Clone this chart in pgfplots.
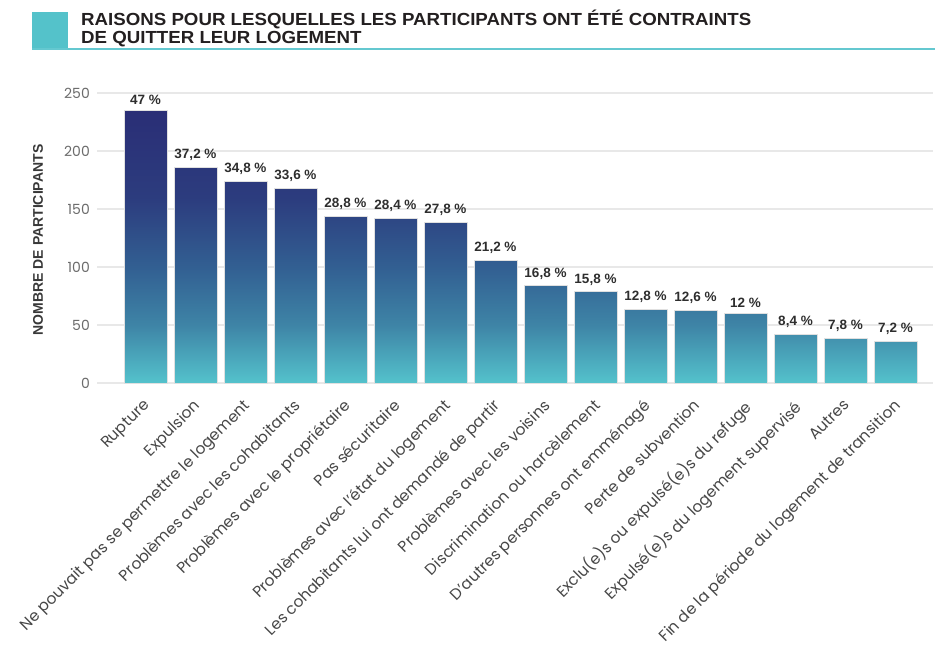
\documentclass[border=0pt]{standalone}
\usepackage{pgfplots}
\pgfplotsset{compat=1.18}
\usepackage{pgfplotstable}
\usepackage{fontspec}
\setmainfont{Poppins}
\newfontfamily\headfont{Liberation Sans}
\definecolor{tealbox}{RGB}{84,194,202}
\definecolor{tealline}{RGB}{100,200,208}
\definecolor{titletext}{RGB}{35,31,32}

\pgfplotstableread[col sep=semicolon]{
x;n;lab
0;235;47 \%
1;186;37,2 \%
2;174;34,8 \%
3;168;33,6 \%
4;144;28,8 \%
5;142;28,4 \%
6;139;27,8 \%
7;106;21,2 \%
8;84;16,8 \%
9;79;15,8 \%
10;64;12,8 \%
11;63;12,6 \%
12;60;12 \%
13;42;8,4 \%
14;39;7,8 \%
15;36;7,2 \%
}\bardata

\begin{document}
\begin{tikzpicture}[x=1pt,y=1pt]
\useasboundingbox (0,0) rectangle (935,-651);
% title
\fill[tealbox] (32,-12) rectangle (68,-49);
\draw[tealline, line width=2pt] (32,-48.5) -- (935,-48.5);
\node[anchor=base west, inner sep=0pt, font=\headfont\bfseries\fontsize{17.5}{17.5}\selectfont, text=titletext] at (81,-25.5) {\scalebox{1.068}[1]{RAISONS POUR LESQUELLES LES PARTICIPANTS ONT ÉTÉ CONTRAINTS}};
\node[anchor=base west, inner sep=0pt, font=\headfont\bfseries\fontsize{17.5}{17.5}\selectfont, text=titletext] at (81,-43.5) {\scalebox{1.068}[1]{DE QUITTER LEUR LOGEMENT}};
\node[rotate=90, inner sep=0pt, font=\headfont\bfseries\fontsize{14}{14}\selectfont, text=black!78] at (38,-240) {NOMBRE DE PARTICIPANTS};
\coordinate (O) at (97pt,-383pt);
\begin{axis}[
  at={(O)}, anchor=south west, scale only axis,
  width=836pt, height=290pt,
  xmin=-0.97, xmax=15.75, ymin=0, ymax=250,
  axis line style={draw=none}, tick style={draw=none},
  ytick={0,50,...,250},
  xtick={0,...,15},
  xticklabels={Rupture, Expulsion, Ne pouvait pas se permettre le logement, Problèmes avec les cohabitants, Problèmes avec le propriétaire, Pas sécuritaire, Problèmes avec l'état du logement, Les cohabitants lui ont demandé de partir, Problèmes avec les voisins, Discrimination ou harcèlement, D'autres personnes ont emménagé, Perte de subvention, Exclu(e)s ou expulsé(e)s du refuge, Expulsé(e)s du logement supervisé, Autres, Fin de la période du logement de transition},
  ymajorgrids, grid style={draw=black!9, line width=1.1pt},
  /pgf/number format/assume math mode=true,
  yticklabel style={font=\fontsize{14}{14}\selectfont, text=black!58, anchor=east, inner sep=0pt, xshift=-7pt},
  xticklabel style={yshift=-15pt, xshift=-3pt, rotate=45, anchor=north east, inner sep=0pt, font=\fontsize{15.5}{15.5}\selectfont, text=black!72},
  colormap={bars}{rgb255(0)=(84,194,204) rgb255(50)=(62,132,166) rgb255(100)=(50,95,146) rgb255(160)=(44,60,126) rgb255(235)=(42,46,118)},
  point meta min=0, point meta max=235,
  clip=false,
]
\addplot[patch, patch type=rectangle, shader=interp, point meta=\thisrow{y}] table[row sep=\\] {
x y\\
-0.43 0\\ 0.43 0\\ 0.43 235\\ -0.43 235\\
0.57 0\\ 1.43 0\\ 1.43 186\\ 0.57 186\\
1.57 0\\ 2.43 0\\ 2.43 174\\ 1.57 174\\
2.57 0\\ 3.43 0\\ 3.43 168\\ 2.57 168\\
3.57 0\\ 4.43 0\\ 4.43 144\\ 3.57 144\\
4.57 0\\ 5.43 0\\ 5.43 142\\ 4.57 142\\
5.57 0\\ 6.43 0\\ 6.43 139\\ 5.57 139\\
6.57 0\\ 7.43 0\\ 7.43 106\\ 6.57 106\\
7.57 0\\ 8.43 0\\ 8.43 84\\ 7.57 84\\
8.57 0\\ 9.43 0\\ 9.43 79\\ 8.57 79\\
9.57 0\\ 10.43 0\\ 10.43 64\\ 9.57 64\\
10.57 0\\ 11.43 0\\ 11.43 63\\ 10.57 63\\
11.57 0\\ 12.43 0\\ 12.43 60\\ 11.57 60\\
12.57 0\\ 13.43 0\\ 13.43 42\\ 12.57 42\\
13.57 0\\ 14.43 0\\ 14.43 39\\ 13.57 39\\
14.57 0\\ 15.43 0\\ 15.43 36\\ 14.57 36\\
};
\addplot[ybar, bar width=0.86, draw=black!12, line width=0.5pt, fill=none,
  nodes near coords, point meta=explicit symbolic,
  every node near coord/.append style={font=\headfont\bfseries\fontsize{13.5}{13.5}\selectfont, text=black!82, inner sep=0pt, anchor=south, yshift=6pt}]
  table[x=x, y=n, meta=lab] {\bardata};
\end{axis}
\end{tikzpicture}
\end{document}
